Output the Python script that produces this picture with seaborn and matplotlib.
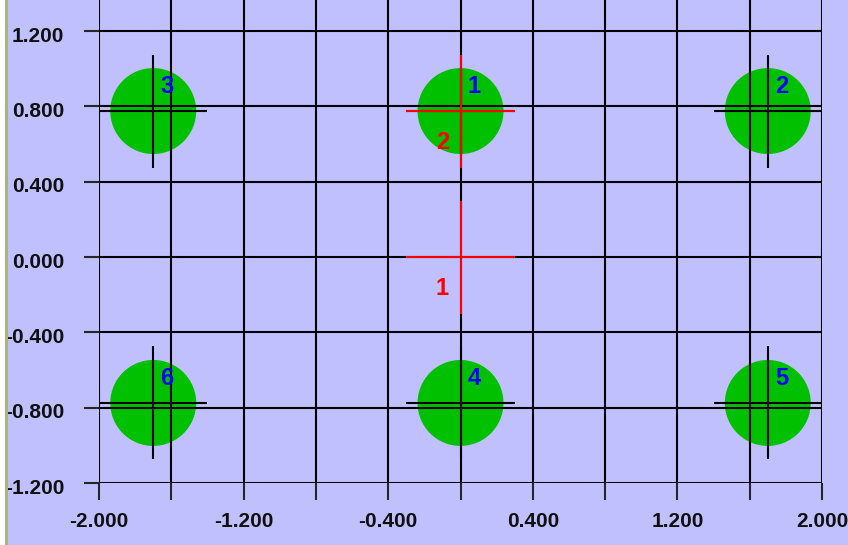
import matplotlib
matplotlib.use("Agg")
import matplotlib.pyplot as plt
import matplotlib.transforms as mtransforms
from matplotlib.patches import Rectangle
import numpy as np
import pandas as pd
import seaborn as sns

# circles (green spots) and their blue numbers
circle_x = [0.0, 1.7, -1.7, 0.0, 1.7, -1.7]
circle_y = [0.775, 0.775, 0.775, -0.775, -0.775, -0.775]
circle_labels = ['1', '2', '3', '4', '5', '6']

# red cross markers
marker_x = [0.0, 0.0]
marker_y = [0.0, 0.775]
marker_labels = ['1', '2']

x_ticks = [-2.0, -1.6, -1.2, -0.8, -0.4, 0.0, 0.4, 0.8, 1.2, 1.6, 2.0]
x_ticklabels = ['-2.000', '', '-1.200', '', '-0.400', '', '0.400', '', '1.200', '', '2.000']
y_ticks = [-1.2, -0.8, -0.4, 0.0, 0.4, 0.8, 1.2]
y_ticklabels = ['-1.200', '-0.800', '-0.400', '0.000', '0.400', '0.800', '1.200']

bg = '#C0C0FF'
cross = 0.3  # half length of the cross hairs
num_font = ['Liberation Sans Narrow', 'Liberation Sans', 'DejaVu Sans']

sns.set_style('white')
plt.rcParams['font.family'] = ['Liberation Sans', 'DejaVu Sans']

W, H = 848, 545
fig = plt.figure(figsize=(W / 100, H / 100), dpi=100, facecolor=bg)
ax = fig.add_axes([99 / W, (H - 483) / H, 723 / W, 483 / H])
ax.set_facecolor(bg)

df = pd.DataFrame({'x': circle_x, 'y': circle_y})
sns.scatterplot(data=df, x='x', y='y', s=3830, color='#00C000',
                edgecolor='none', marker='o', ax=ax, zorder=1, legend=False)

# black cross hairs on every circle
cx = np.array(circle_x)
cy = np.array(circle_y)
ax.hlines(cy, cx - cross, cx + cross, color='black', lw=1.5, zorder=3)
ax.vlines(cx, cy - cross, cy + cross, color='black', lw=1.5, zorder=3)
for x, y, t in zip(circle_x, circle_y, circle_labels):
    ax.text(x + 0.075, y + 0.13, t, color='#0000FF', fontsize=17,
            fontweight='bold', family=num_font, ha='center', va='center',
            zorder=5)

# red markers
mx = np.array(marker_x)
my = np.array(marker_y)
ax.hlines(my, mx - cross, mx + cross, color='#FF0000', lw=1.5, zorder=4)
ax.vlines(mx, my - cross, my + cross, color='#FF0000', lw=1.5, zorder=4)
for x, y, t in zip(marker_x, marker_y, marker_labels):
    ax.text(x - 0.1, y - 0.165, t, color='#FF0000', fontsize=17,
            fontweight='bold', family=num_font, ha='center', va='center',
            zorder=5)

ax.set_xlim(-2.0, 2.0)
ax.set_ylim(-1.2, 1.2 + 31 / 188.3)
ax.set_xticks(x_ticks)
ax.set_xticklabels(x_ticklabels)
ax.set_yticks(y_ticks)
ax.set_yticklabels(y_ticklabels)
ax.set_xlabel('')
ax.set_ylabel('')

ax.set_axisbelow(False)
ax.grid(True, color='black', lw=1.5)
for s in ax.spines.values():
    s.set_visible(False)
ax.tick_params(axis='x', direction='out', length=12, width=1.5, pad=9,
               labelsize=15, bottom=True)
ax.tick_params(axis='y', direction='out', length=11, width=1.5, pad=14,
               labelsize=15, left=True)
shift = mtransforms.ScaledTranslation(0, -3 / 100, fig.dpi_scale_trans)
for lab in ax.get_xticklabels() + ax.get_yticklabels():
    lab.set_fontweight('bold')
    lab.set_color('#101010')
for lab in ax.get_yticklabels():
    lab.set_transform(lab.get_transform() + shift)

# thin border strip on the left edge
fig.patches.append(Rectangle((0, 0), 5 / W, 1, transform=fig.transFigure,
                             facecolor='white', edgecolor='none'))
fig.patches.append(Rectangle((5 / W, 0), 3 / W, 1, transform=fig.transFigure,
                             facecolor='#A9B57F', edgecolor='none'))

fig.savefig('out.png', dpi=100, facecolor=bg)
